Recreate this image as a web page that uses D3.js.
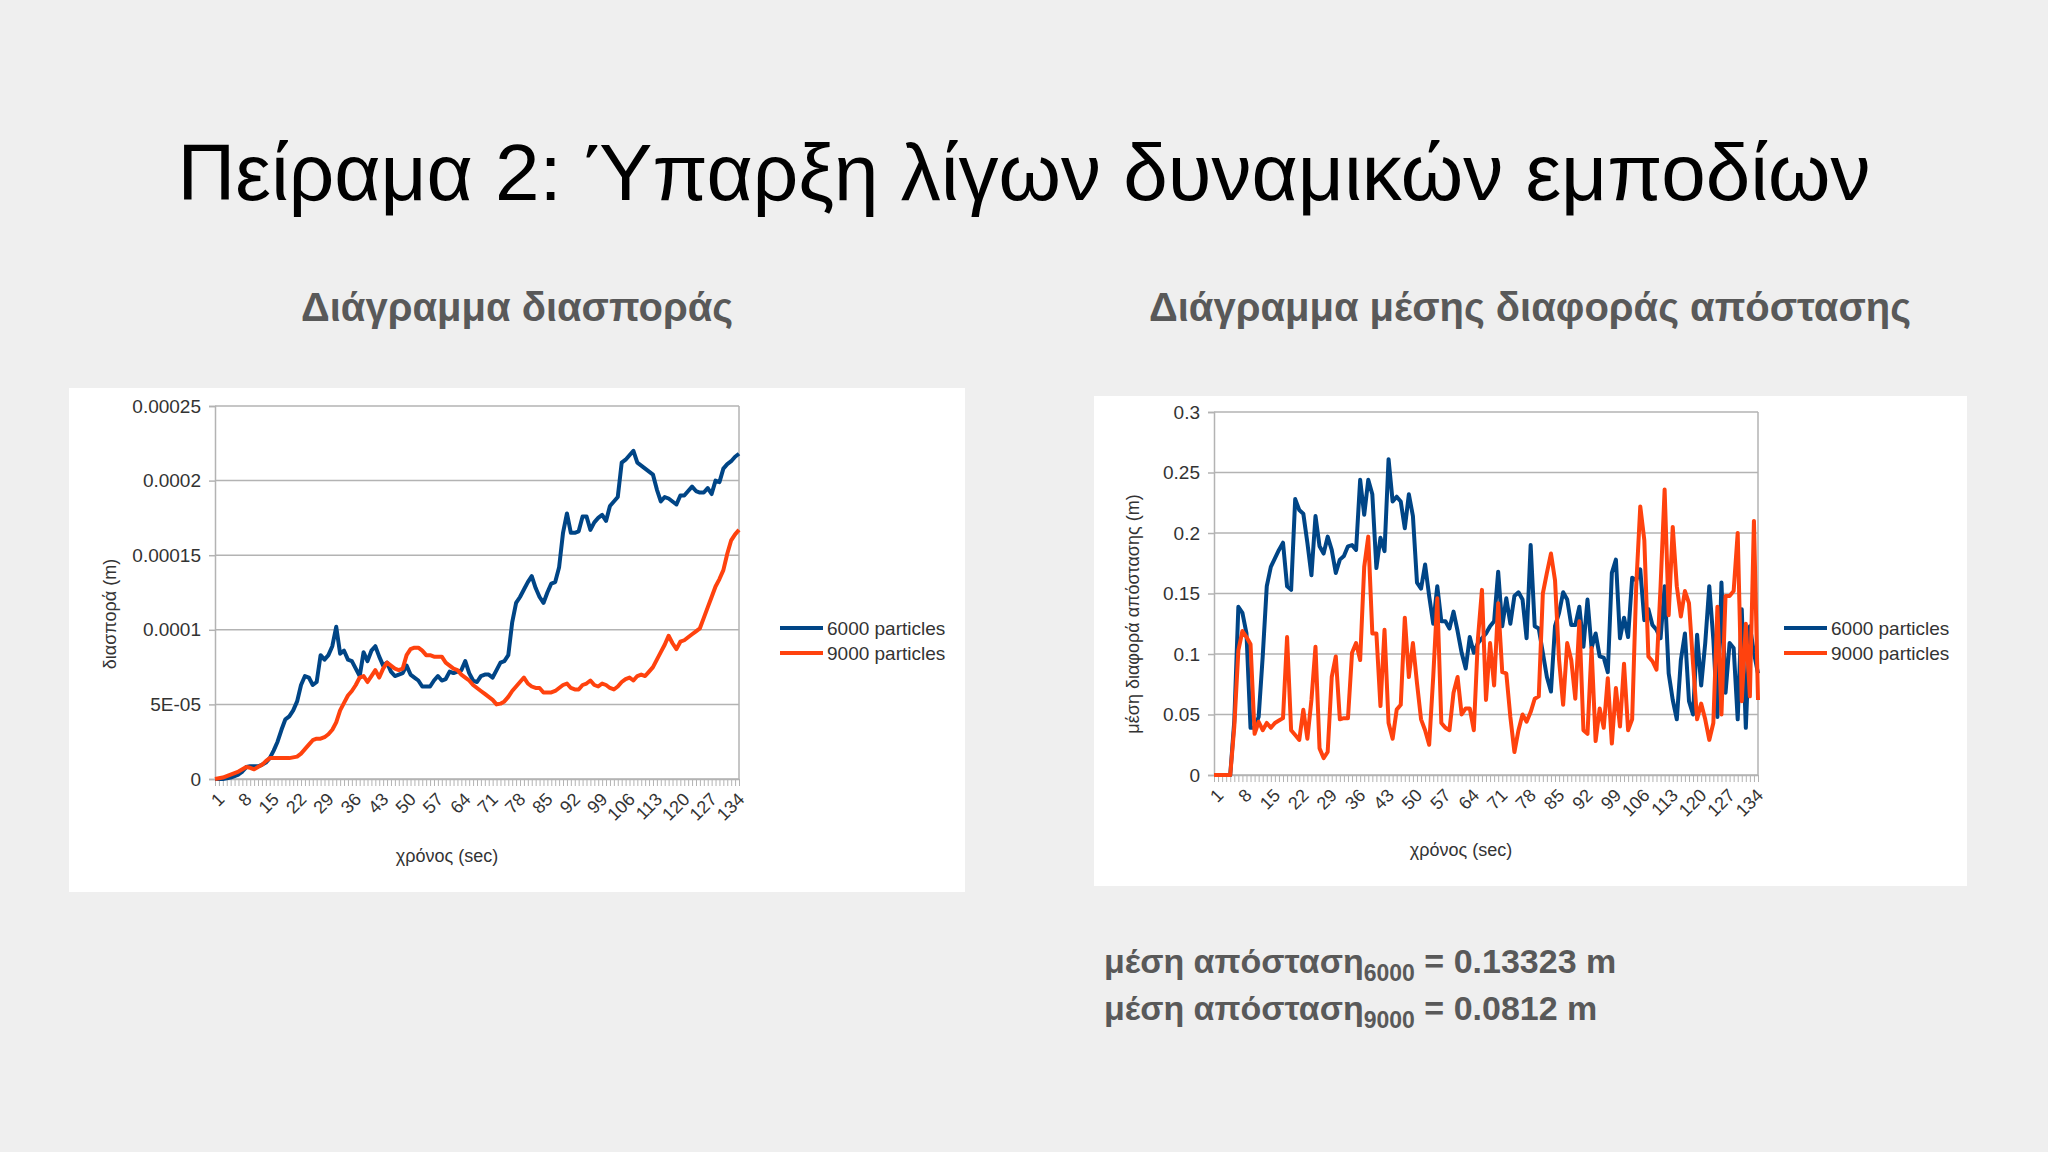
<!DOCTYPE html>
<html>
<head>
<meta charset="utf-8">
<script src="https://cdn.jsdelivr.net/npm/d3@7"></script>
<style>
  body { margin: 0; background: #efefef; }
  text { font-family: "Liberation Sans", Arial, sans-serif; }
</style>
</head>
<body>
<svg id="slide" width="2048" height="1152"></svg>
<script>
// x categories: time in seconds
const categories = d3.range(1, 136);
const xTickLabels = [1, 8, 15, 22, 29, 36, 43, 50, 57, 64, 71, 78, 85, 92, 99, 106, 113, 120, 127, 134];

const seriesNames = ["6000 particles", "9000 particles"];

// variance (m), stored in units of 1E-05
const variance6000 = [
  0, 0, 0, 0.05, 0.1, 0.2, 0.3, 0.5, 0.8, 0.85,
  0.85, 0.85, 0.95, 1.1, 1.4, 1.9, 2.5, 3.3, 4.0, 4.2,
  4.6, 5.2, 6.3, 6.9, 6.8, 6.3, 6.5, 8.3, 8.0, 8.3,
  8.9, 10.2, 8.4, 8.6, 8.0, 7.9, 7.4, 6.9, 8.5, 7.9,
  8.6, 8.9, 8.2, 7.6, 7.8, 7.2, 6.9, 7.0, 7.1, 7.6,
  7.0, 6.8, 6.6, 6.2, 6.2, 6.2, 6.6, 6.9, 6.6, 6.7,
  7.2, 7.1, 7.2, 7.3, 7.9, 7.1, 6.6, 6.5, 6.9, 7.0,
  7.0, 6.8, 7.3, 7.8, 7.9, 8.3, 10.5, 11.8, 12.2, 12.7,
  13.2, 13.6, 12.8, 12.2, 11.8, 12.5, 13.1, 13.2, 14.2, 16.5,
  17.8, 16.5, 16.5, 16.6, 17.6, 17.6, 16.7, 17.2, 17.5, 17.7,
  17.3, 18.3, 18.6, 18.9, 21.2, 21.4, 21.7, 22.0, 21.2, 21.0,
  20.8, 20.6, 20.4, 19.4, 18.6, 18.9, 18.8, 18.6, 18.4, 19.0,
  19.0, 19.3, 19.6, 19.3, 19.2, 19.2, 19.5, 19.1, 20.0, 19.9,
  20.8, 21.1, 21.3, 21.6, 21.8
];
const variance9000 = [
  0, 0.05, 0.1, 0.2, 0.3, 0.4, 0.5, 0.65, 0.8, 0.75,
  0.65, 0.8, 0.95, 1.2, 1.4, 1.4, 1.4, 1.4, 1.4, 1.4,
  1.45, 1.5, 1.7, 2.0, 2.3, 2.6, 2.7, 2.7, 2.8, 3.0,
  3.3, 3.8, 4.6, 5.1, 5.6, 5.9, 6.3, 6.8, 6.9, 6.5,
  6.9, 7.3, 6.8, 7.4, 7.8, 7.6, 7.4, 7.3, 7.4, 8.3,
  8.7, 8.8, 8.8, 8.6, 8.3, 8.3, 8.2, 8.2, 8.2, 7.8,
  7.6, 7.4, 7.3, 7.0, 6.8, 6.6, 6.3, 6.1, 5.9, 5.7,
  5.5, 5.3, 5.0, 5.05, 5.2, 5.5, 5.9, 6.2, 6.5, 6.8,
  6.4, 6.2, 6.1, 6.1, 5.8, 5.8, 5.8, 5.9, 6.1, 6.3,
  6.4, 6.1, 6.0, 6.0, 6.3, 6.4, 6.6, 6.3, 6.2, 6.4,
  6.3, 6.1, 6.0, 6.2, 6.5, 6.7, 6.8, 6.6, 6.9, 7.0,
  6.9, 7.2, 7.5, 8.0, 8.5, 9.0, 9.6, 9.1, 8.7, 9.2,
  9.3, 9.5, 9.7, 9.9, 10.1, 10.8, 11.5, 12.2, 12.9, 13.4,
  14.0, 15.1, 16.0, 16.4, 16.7
];
const varianceTicks = [0, 5, 10, 15, 20, 25];
const varianceTickLabels = ["0", "5E-05", "0.0001", "0.00015", "0.0002", "0.00025"];

// mean distance difference (m)
const meanDiff6000 = [
  0, 0, 0, 0, 0, 0.045, 0.139, 0.134, 0.117, 0.039,
  0.039, 0.048, 0.098, 0.156, 0.172, 0.179, 0.186, 0.192, 0.156, 0.153,
  0.228, 0.219, 0.216, 0.192, 0.165, 0.214, 0.189, 0.183, 0.197, 0.186,
  0.167, 0.178, 0.181, 0.189, 0.19, 0.186, 0.244, 0.215, 0.244, 0.232,
  0.171, 0.196, 0.185, 0.261, 0.226, 0.230, 0.226, 0.204, 0.232, 0.214,
  0.159, 0.154, 0.174, 0.148, 0.125, 0.156, 0.127, 0.127, 0.121, 0.135,
  0.119, 0.101, 0.088, 0.114, 0.101, 0.109, 0.113, 0.117, 0.123, 0.127,
  0.168, 0.123, 0.146, 0.125, 0.148, 0.151, 0.145, 0.113, 0.190, 0.123,
  0.121, 0.101, 0.081, 0.069, 0.123, 0.134, 0.151, 0.145, 0.124, 0.124,
  0.139, 0.106, 0.145, 0.105, 0.117, 0.098, 0.097, 0.085, 0.167, 0.178,
  0.113, 0.13, 0.114, 0.163, 0.161, 0.170, 0.128, 0.137, 0.124, 0.120,
  0.113, 0.156, 0.084, 0.062, 0.046, 0.095, 0.117, 0.061, 0.050, 0.116,
  0.074, 0.109, 0.156, 0.112, 0.048, 0.159, 0.068, 0.109, 0.105, 0.046,
  0.137, 0.039, 0.123, 0.101, 0.084
];
const meanDiff9000 = [
  0, 0, 0, 0, 0, 0.04, 0.103, 0.119, 0.114, 0.108,
  0.034, 0.044, 0.037, 0.043, 0.039, 0.043, 0.045, 0.047, 0.114, 0.037,
  0.033, 0.029, 0.054, 0.030, 0.062, 0.106, 0.022, 0.014, 0.019, 0.081,
  0.098, 0.046, 0.047, 0.047, 0.101, 0.109, 0.095, 0.172, 0.197, 0.117,
  0.117, 0.057, 0.120, 0.043, 0.030, 0.054, 0.058, 0.130, 0.081, 0.109,
  0.076, 0.046, 0.037, 0.025, 0.081, 0.146, 0.043, 0.039, 0.037, 0.068,
  0.081, 0.050, 0.055, 0.055, 0.037, 0.112, 0.153, 0.062, 0.109, 0.074,
  0.142, 0.085, 0.084, 0.048, 0.019, 0.037, 0.050, 0.044, 0.052, 0.063,
  0.065, 0.150, 0.167, 0.183, 0.161, 0.095, 0.058, 0.109, 0.095, 0.063,
  0.127, 0.037, 0.034, 0.105, 0.028, 0.055, 0.039, 0.080, 0.026, 0.072,
  0.040, 0.092, 0.037, 0.046, 0.156, 0.222, 0.194, 0.098, 0.094, 0.087,
  0.156, 0.236, 0.132, 0.205, 0.156, 0.131, 0.152, 0.142, 0.092, 0.046,
  0.059, 0.046, 0.029, 0.043, 0.139, 0.050, 0.148, 0.148, 0.152, 0.200,
  0.061, 0.125, 0.065, 0.210, 0.062
];
const meanDiffTicks = [0, 0.05, 0.1, 0.15, 0.2, 0.25, 0.3];
const meanDiffTickLabels = ["0", "0.05", "0.1", "0.15", "0.2", "0.25", "0.3"];

const colors = ["#004586", "#ff420e"];
const font = '"Liberation Sans", Arial, sans-serif';

const svg = d3.select("#slide");

svg.append("rect").attr("width", 2048).attr("height", 1152).attr("fill", "#efefef");

// slide title
svg.append("text")
  .attr("x", 1024).attr("y", 200)
  .attr("text-anchor", "middle")
  .attr("font-size", 80)
  .attr("fill", "#000")
  .text("Πείραμα 2: Ύπαρξη λίγων δυναμικών εμποδίων");

function drawChart(o) {
  const g = svg.append("g");

  // sub heading
  g.append("text")
    .attr("x", o.headX).attr("y", 321)
    .attr("text-anchor", "middle")
    .attr("font-size", 40).attr("font-weight", "bold")
    .attr("fill", "#595959")
    .text(o.heading);

  // white chart panel
  g.append("rect")
    .attr("x", o.panel[0]).attr("y", o.panel[1])
    .attr("width", o.panel[2] - o.panel[0]).attr("height", o.panel[3] - o.panel[1])
    .attr("fill", "#fff");

  const x = d3.scalePoint().domain(categories).range([o.left, o.right]);
  const y = d3.scaleLinear().domain(o.domain).range([o.bottom, o.top]);

  // grid
  g.append("g").selectAll("line")
    .data(o.ticks).enter().append("line")
    .attr("x1", o.left).attr("x2", o.right)
    .attr("y1", d => y(d)).attr("y2", d => y(d))
    .attr("stroke", "#b3b3b3").attr("stroke-width", 1.5);

  g.append("line")
    .attr("x1", o.right).attr("x2", o.right)
    .attr("y1", o.top).attr("y2", o.bottom)
    .attr("stroke", "#b3b3b3").attr("stroke-width", 1.5);

  // y axis
  const yAxis = d3.axisLeft(y)
    .tickValues(o.ticks)
    .tickFormat((d, i) => o.tickLabels[i])
    .tickSize(6).tickPadding(8);
  const ya = g.append("g").attr("transform", `translate(${o.left},0)`).call(yAxis);
  ya.select(".domain").attr("stroke", "#b3b3b3").attr("stroke-width", 1.5);
  ya.selectAll(".tick line").attr("stroke", "#b3b3b3").attr("stroke-width", 1.5);
  ya.selectAll(".tick text").attr("font-family", font).attr("font-size", 19).attr("fill", "#333");

  // x axis, one small tick per category
  const xAxis = d3.axisBottom(x).tickValues(categories).tickFormat("").tickSize(7).tickSizeOuter(0);
  const xa = g.append("g").attr("transform", `translate(0,${o.bottom})`).call(xAxis);
  xa.select(".domain").attr("stroke", "#b3b3b3").attr("stroke-width", 1.5);
  xa.selectAll(".tick line").attr("stroke", "#b3b3b3").attr("stroke-width", 1);

  // rotated category labels
  g.append("g").selectAll("text")
    .data(xTickLabels).enter().append("text")
    .attr("transform", d => `translate(${x(d) + 6},${o.bottom + 17}) rotate(-45)`)
    .attr("text-anchor", "end")
    .attr("dy", "0.35em")
    .attr("font-size", 18).attr("fill", "#333")
    .text(d => d);

  // axis titles
  g.append("text")
    .attr("x", o.xTitleX).attr("y", o.xTitleY)
    .attr("text-anchor", "middle")
    .attr("font-size", 18).attr("fill", "#333")
    .text("χρόνος (sec)");
  g.append("text")
    .attr("transform", `translate(${o.yTitleX},614) rotate(-90)`)
    .attr("text-anchor", "middle")
    .attr("font-size", 18).attr("fill", "#333")
    .text(o.yTitle);

  // series
  const line = d3.line()
    .x((d, i) => x(categories[i]))
    .y(d => y(d));
  o.series.forEach((s, k) => {
    g.append("path")
      .datum(s)
      .attr("d", line)
      .attr("fill", "none")
      .attr("stroke", colors[k])
      .attr("stroke-width", 4)
      .attr("stroke-linejoin", "round");
  });

  // legend
  const lg = g.append("g").selectAll("g")
    .data(seriesNames).enter().append("g")
    .attr("transform", (d, i) => `translate(${o.legendX},${628 + i * 25})`);
  lg.append("line")
    .attr("x1", 0).attr("x2", 43)
    .attr("stroke", (d, i) => colors[i]).attr("stroke-width", 4);
  lg.append("text")
    .attr("x", 47).attr("dy", "0.35em")
    .attr("font-size", 19).attr("fill", "#333")
    .text(d => d);
}

drawChart({
  heading: "Διάγραμμα διασποράς",
  headX: 517,
  panel: [69, 388, 965, 892],
  left: 215, right: 739, top: 406, bottom: 779,
  domain: [0, 25],
  ticks: varianceTicks, tickLabels: varianceTickLabels,
  series: [variance6000, variance9000],
  yTitle: "διασπορά (m)", yTitleX: 116,
  xTitleX: 447, xTitleY: 862,
  legendX: 780
});

drawChart({
  heading: "Διάγραμμα μέσης διαφοράς απόστασης",
  headX: 1530,
  panel: [1094, 396, 1967, 886],
  left: 1214, right: 1758, top: 412, bottom: 775,
  domain: [0, 0.3],
  ticks: meanDiffTicks, tickLabels: meanDiffTickLabels,
  series: [meanDiff6000, meanDiff9000],
  yTitle: "μέση διαφορά απόστασης (m)", yTitleX: 1139,
  xTitleX: 1461, xTitleY: 856,
  legendX: 1784
});

// mean distance notes
const notes = [["6000", " = 0.13323 m"], ["9000", " = 0.0812 m"]];
notes.forEach((n, i) => {
  const t = svg.append("text")
    .attr("x", 1104).attr("y", 973 + i * 47)
    .attr("font-size", 34).attr("font-weight", "bold")
    .attr("fill", "#595959");
  t.append("tspan").text("μέση απόσταση");
  t.append("tspan").attr("font-size", 23).attr("dy", 8).text(n[0]);
  t.append("tspan").attr("dy", -8).text(n[1]);
});
</script>
</body>
</html>
